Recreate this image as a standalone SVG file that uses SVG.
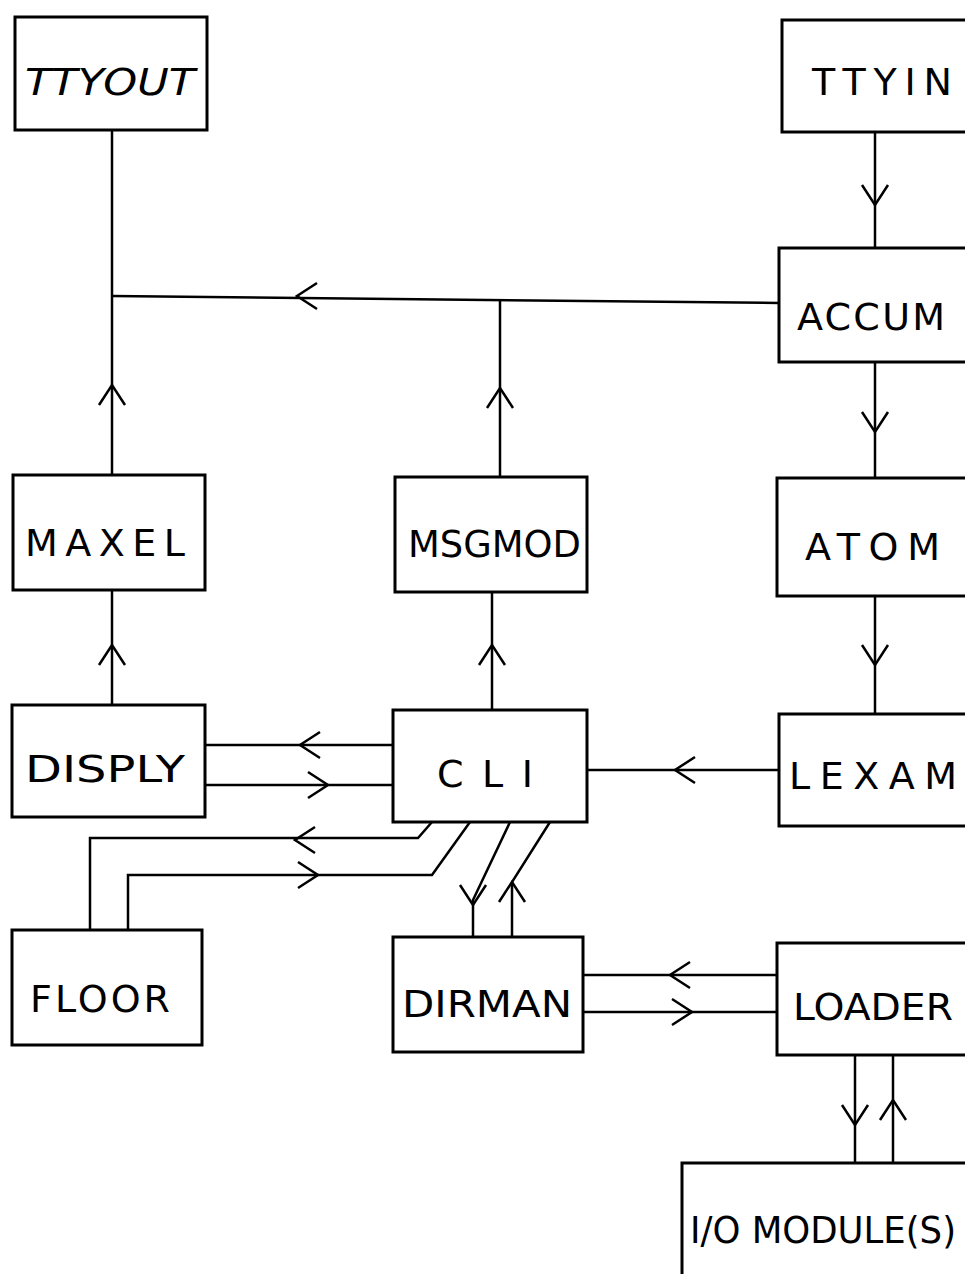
<svg xmlns="http://www.w3.org/2000/svg" width="965" height="1274" viewBox="0 0 965 1274">
<style>
.box{fill:#fff;stroke:#000;stroke-width:3}
.ln{fill:none;stroke:#000;stroke-width:2.5}
.ch{fill:none;stroke:#000;stroke-width:2.5}
.lbl{font-family:"DejaVu Sans","Liberation Sans",sans-serif;font-size:38px;fill:#000;font-weight:normal}
</style>
<defs>
<path id="chev" d="M-20,-13 L0,0 L-20,13" class="ch"/>
</defs>
<rect width="965" height="1274" fill="#fff"/>
<g id="connectors">
<path class="ln" d="M112,130 V475"/>
<path class="ln" d="M112,296 L779,303"/>
<path class="ln" d="M500,299 V477"/>
<path class="ln" d="M875,132 V248"/>
<path class="ln" d="M875,362 V478"/>
<path class="ln" d="M875,596 V714"/>
<path class="ln" d="M112,590 V705"/>
<path class="ln" d="M492,592 V710"/>
<path class="ln" d="M205,745 H393"/>
<path class="ln" d="M205,785 H393"/>
<path class="ln" d="M587,770 H779"/>
<path class="ln" d="M90,930 V838 H418 L432,822"/>
<path class="ln" d="M128,930 V875 H432 L470,822"/>
<path class="ln" d="M510,822 L473,900 V937"/>
<path class="ln" d="M512,937 V882 L550,822"/>
<path class="ln" d="M583,975 H777"/>
<path class="ln" d="M583,1012 H777"/>
<path class="ln" d="M855,1055 V1163"/>
<path class="ln" d="M893,1055 V1163"/>
<use href="#chev" transform="translate(297,296) rotate(180)"/>
<use href="#chev" transform="translate(875,205) rotate(90)"/>
<use href="#chev" transform="translate(875,432) rotate(90)"/>
<use href="#chev" transform="translate(875,665) rotate(90)"/>
<use href="#chev" transform="translate(112,385) rotate(-90)"/>
<use href="#chev" transform="translate(500,388) rotate(-90)"/>
<use href="#chev" transform="translate(112,645) rotate(-90)"/>
<use href="#chev" transform="translate(492,645) rotate(-90)"/>
<use href="#chev" transform="translate(300,745) rotate(180)"/>
<use href="#chev" transform="translate(328,785)"/>
<use href="#chev" transform="translate(675,770) rotate(180)"/>
<use href="#chev" transform="translate(295,840) rotate(180)"/>
<use href="#chev" transform="translate(318,875)"/>
<use href="#chev" transform="translate(473,905) rotate(90)"/>
<use href="#chev" transform="translate(512,882) rotate(-90)"/>
<use href="#chev" transform="translate(670,975) rotate(180)"/>
<use href="#chev" transform="translate(692,1012)"/>
<use href="#chev" transform="translate(855,1125) rotate(90)"/>
<use href="#chev" transform="translate(893,1100) rotate(-90)"/>
</g>
<g id="ttyout"><rect class="box" x="15" y="17" width="192" height="113"/><text class="lbl" x="25" y="95" textLength="170" lengthAdjust="spacingAndGlyphs" font-style="italic">TTYOUT</text></g>
<g id="ttyin"><rect class="box" x="782" y="20" width="190" height="112"/><text class="lbl" x="812" y="95" textLength="140" lengthAdjust="spacing">TTYIN</text></g>
<g id="accum"><rect class="box" x="779" y="248" width="193" height="114"/><text class="lbl" x="797" y="330" textLength="148" lengthAdjust="spacing">ACCUM</text></g>
<g id="maxel"><rect class="box" x="13" y="475" width="192" height="115"/><text class="lbl" x="25" y="556" textLength="160" lengthAdjust="spacing">MAXEL</text></g>
<g id="msgmod"><rect class="box" x="395" y="477" width="192" height="115"/><text class="lbl" x="408" y="557" textLength="173" lengthAdjust="spacingAndGlyphs">MSGMOD</text></g>
<g id="atom"><rect class="box" x="777" y="478" width="195" height="118"/><text class="lbl" x="805" y="560" textLength="135" lengthAdjust="spacing">ATOM</text></g>
<g id="disply"><rect class="box" x="12" y="705" width="193" height="112"/><text class="lbl" x="25" y="782" textLength="160" lengthAdjust="spacingAndGlyphs">DISPLY</text></g>
<g id="cli"><rect class="box" x="393" y="710" width="194" height="112"/><text class="lbl" x="437" y="787" textLength="96" lengthAdjust="spacing">CLI</text></g>
<g id="lexam"><rect class="box" x="779" y="714" width="193" height="112"/><text class="lbl" x="789" y="789" textLength="168" lengthAdjust="spacing">LEXAM</text></g>
<g id="floor"><rect class="box" x="12" y="930" width="190" height="115"/><text class="lbl" x="30" y="1012" textLength="140" lengthAdjust="spacing">FLOOR</text></g>
<g id="dirman"><rect class="box" x="393" y="937" width="190" height="115"/><text class="lbl" x="402" y="1017" textLength="170" lengthAdjust="spacingAndGlyphs">DIRMAN</text></g>
<g id="loader"><rect class="box" x="777" y="943" width="195" height="112"/><text class="lbl" x="793" y="1020" textLength="160" lengthAdjust="spacingAndGlyphs">LOADER</text></g>
<g id="io"><rect class="box" x="682" y="1163" width="290" height="130"/><text class="lbl" x="690" y="1243" font-size="36" textLength="266" lengthAdjust="spacingAndGlyphs">I/O MODULE(S)</text></g>
</svg>
